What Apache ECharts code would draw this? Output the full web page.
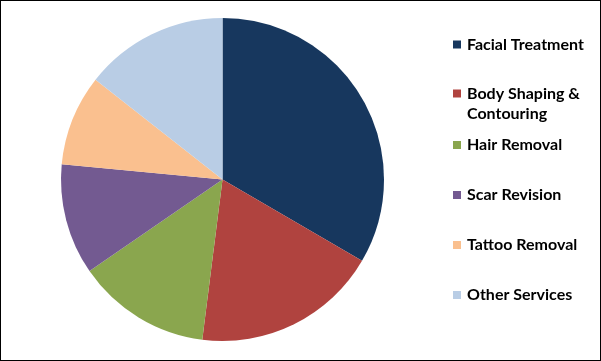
<!DOCTYPE html>
<html>
<head>
<meta charset="utf-8">
<script src="https://cdn.jsdelivr.net/npm/echarts@6/dist/echarts.min.js"></script>
<style>
html,body{margin:0;padding:0;background:#fff;}
#frame{position:absolute;left:0;top:0;width:601px;height:361px;box-sizing:border-box;border:1px solid #000;}
#chart{position:absolute;left:0;top:0;width:601px;height:361px;}
</style>
</head>
<body>
<div id="chart"></div>
<div id="frame"></div>
<script>
const categories = ["Facial Treatment", "Body Shaping & Contouring", "Hair Removal", "Scar Revision", "Tattoo Removal", "Other Services"];
const shares = [33.4, 18.6, 13.4, 11.1, 9.1, 14.4];
const colors = ["#17375E", "#B0433F", "#8AA64E", "#735A91", "#FAC08F", "#B9CDE5"];
const legendFirstLines = ["Facial Treatment", "Body Shaping &", "Hair Removal", "Scar Revision", "Tattoo Removal", "Other Services"];
const legendSecondLines = ["", "Contouring", "", "", "", ""];

const chart = echarts.init(document.getElementById('chart'), null, {renderer: 'canvas'});
const iconCenters = [44.5, 93.5, 145, 195, 245, 295];
const fontSpec = {fontFamily: 'Lato', fontWeight: 'bold', fontSize: 16, color: '#000'};
const legends = categories.map((name, i) => ({
  orient: 'vertical',
  left: 453,
  top: iconCenters[i] - 8,
  padding: 0,
  itemWidth: 8,
  itemHeight: 8,
  itemGap: 0,
  icon: 'rect',
  selectedMode: false,
  data: [name],
  formatter: n => legendFirstLines[categories.indexOf(n)],
  textStyle: Object.assign({padding: [0, 0, 0, 1]}, fontSpec)
}));
const graphics = legendSecondLines.map((t, i) => t ? {
  type: 'text', left: 467, top: iconCenters[i] + 20 - 8,
  style: Object.assign({text: t, fill: '#000', font: 'bold 16px Lato'})
} : null).filter(Boolean);

chart.setOption({
  animation: false,
  color: colors,
  legend: legends,
  graphic: graphics,
  series: [{
    type: 'pie',
    center: [222.5, 179.5],
    radius: 161.5,
    startAngle: 90,
    clockwise: true,
    label: {show: false},
    labelLine: {show: false},
    itemStyle: {borderWidth: 0},
    emphasis: {disabled: true},
    data: categories.map((c, i) => ({name: c, value: shares[i]}))
  }]
});
</script>
</body>
</html>
